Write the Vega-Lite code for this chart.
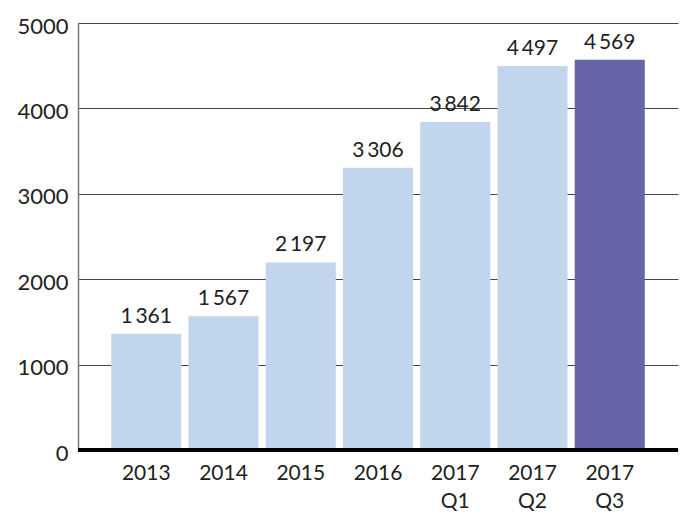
{
  "$schema": "https://vega.github.io/schema/vega-lite/v6.json",
  "autosize": "none",
  "width": 600,
  "height": 427,
  "padding": {"left": 78, "top": 23, "right": 20, "bottom": 73},
  "background": "white",
  "config": {
    "view": {"stroke": null},
    "font": "Lato"
  },
  "datasets": {
    "main": [
      {"period": "2013", "value": 1361, "label": "1\u2009361"},
      {"period": "2014", "value": 1567, "label": "1\u2009567"},
      {"period": "2015", "value": 2197, "label": "2\u2009197"},
      {"period": "2016", "value": 3306, "label": "3\u2009306"},
      {"period": "2017 Q1", "value": 3842, "label": "3\u2009842"},
      {"period": "2017 Q2", "value": 4497, "label": "4\u2009497"},
      {"period": "2017 Q3", "value": 4569, "label": "4\u2009569"}
    ],
    "base": [{"zero": 0}]
  },
  "layer": [
    {
      "data": {"name": "main"},
      "mark": {"type": "bar"},
      "encoding": {
        "x": {
          "field": "period",
          "type": "nominal",
          "sort": null,
          "scale": {"paddingInner": 0.093, "paddingOuter": 0.43},
          "axis": {
            "title": null,
            "domain": false,
            "ticks": false,
            "labelAngle": 0,
            "labelFont": "Lato",
            "labelFontSize": 21,
            "labelColor": "#222222",
            "labelPadding": 12,
            "labelLineHeight": 28,
            "labelExpr": "split(datum.label, ' ')"
          }
        },
        "y": {
          "field": "value",
          "type": "quantitative",
          "scale": {"domain": [0, 5000], "nice": false},
          "axis": {
            "title": null,
            "values": [0, 1000, 2000, 3000, 4000, 5000],
            "format": "d",
            "domain": true,
            "domainColor": "#777777",
            "domainWidth": 1.5,
            "ticks": false,
            "grid": true,
            "gridColor": "#444444",
            "gridWidth": 1,
            "labelFont": "Lato",
            "labelFontSize": 22,
            "labelColor": "#222222",
            "labelPadding": 10,
            "labelOffset": 3
          }
        },
        "color": {
          "condition": {"test": "datum.period === '2017 Q3'", "value": "#6565a8"},
          "value": "#c1d5ed"
        }
      }
    },
    {
      "data": {"name": "main"},
      "mark": {"type": "text", "baseline": "alphabetic", "dy": -11, "fontSize": 21, "font": "Lato", "color": "#222222"},
      "encoding": {
        "x": {"field": "period", "type": "nominal", "sort": null},
        "y": {"field": "value", "type": "quantitative"},
        "text": {"field": "label"}
      }
    },
    {
      "data": {"name": "base"},
      "mark": {"type": "rule", "color": "#000000", "strokeWidth": 4},
      "encoding": {
        "y": {"field": "zero", "type": "quantitative"}
      }
    }
  ]
}
